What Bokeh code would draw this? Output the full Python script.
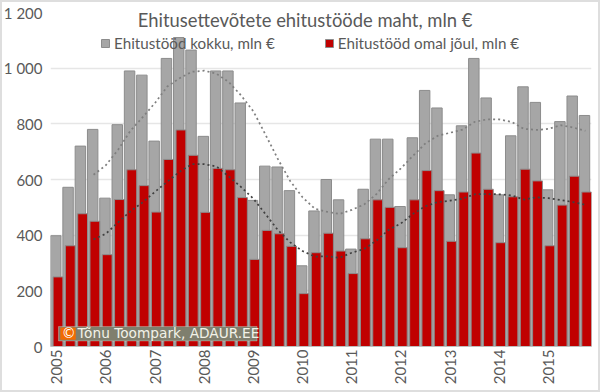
from bokeh.plotting import figure
from bokeh.models import ColumnDataSource, FixedTicker, Label, Legend, LegendItem, Range1d, BoxAnnotation
from bokeh.transform import dodge
from bokeh.embed import file_html
from bokeh.resources import INLINE

years = ["2005","2006","2007","2008","2009","2010","2011","2012","2013","2014","2015"]
quarter_idx = list(range(44))
total = [398,572,720,780,533,797,990,975,738,1035,1110,1065,755,990,990,875,525,648,645,560,290,487,600,527,350,565,745,745,503,750,920,857,545,793,1035,893,545,757,933,877,563,808,900,830]
own = [250,362,477,450,330,528,635,578,483,672,778,687,482,640,635,535,313,417,405,360,190,337,407,343,262,387,527,500,355,527,632,560,378,555,695,565,373,538,637,595,362,508,612,555]
trend_x = list(range(3,44))
trend_total = [617,651,707,775,824,875,934,964,987,991,980,950,902,845,760,673,594,536,495,484,476,491,510,547,601,640,686,730,757,768,779,807,816,816,807,782,778,782,795,787,775]
trend_own = [385,405,446,486,518,556,592,628,655,655,647,611,573,531,475,418,374,343,323,324,319,337,350,380,419,442,477,504,519,524,531,547,548,547,543,528,536,533,526,519,509]
title_text = "Ehitusettevõtete ehitustööde maht, mln €"
legend_total = "Ehitustööd kokku, mln €"
legend_own = "Ehitustööd omal jõul, mln €"
credit = "Tõnu Toompark, ADAUR.EE"

TXT = "#595959"
src = ColumnDataSource(dict(x=quarter_idx, total=total, own=own))

p = figure(width=590, height=390, output_backend="svg", toolbar_location=None,
           x_range=Range1d(-0.5, 43.5), y_range=Range1d(0, 1200),
           min_border_left=45, min_border_right=4, min_border_top=12, min_border_bottom=38)
p.frame_height = 334
p.frame_width = 541
p.stylesheets = [":host::before{content:'';position:fixed;left:0;top:0;right:0;bottom:0;border:2px solid #DEDEDE;pointer-events:none;z-index:5}"]
p.outline_line_color = None
p.border_fill_color = "white"
p.xgrid.visible = False
p.ygrid.grid_line_color = "#E6E6E6"
p.ygrid.grid_line_width = 1.5
p.yaxis.ticker = FixedTicker(ticks=[0,200,400,600,800,1000,1200])
p.yaxis.major_label_overrides = {0:"0",200:"200",400:"400",600:"600",800:"800",1000:"1 000",1200:"1 200"}
p.yaxis.axis_line_color = None
p.yaxis.major_tick_line_color = None
p.yaxis.major_tick_out = 0
p.yaxis.major_tick_in = 0
p.yaxis.minor_tick_line_color = None
p.yaxis.major_label_text_font = "Lato"
p.yaxis.major_label_text_font_size = "15px"
p.yaxis.major_label_text_color = TXT
p.yaxis.major_label_standoff = 8

p.xaxis.ticker = FixedTicker(ticks=quarter_idx[::4])
p.xaxis.major_label_overrides = {i*4: y for i, y in enumerate(years)}
p.xaxis.axis_line_color = "#BFBFBF"
p.xaxis.major_tick_line_color = None
p.xaxis.major_tick_out = 0
p.xaxis.major_tick_in = 0
p.xaxis.minor_tick_line_color = None
p.xaxis.major_label_orientation = 1.5708
p.xaxis.major_label_text_font = "Lato"
p.xaxis.major_label_text_font_size = "15px"
p.xaxis.major_label_text_color = TXT
p.xaxis.major_label_standoff = 3

r1 = p.vbar(x=dodge("x", -0.07, range=p.x_range), top="total", width=0.85, source=src,
            fill_color="#A6A6A6", line_color="#8C8C8C", line_width=1)
r2 = p.vbar(x=dodge("x", 0.11, range=p.x_range), top="own", width=0.8, source=src,
            fill_color="#C00000", line_color="#8C8C8C", line_width=1)
p.line(trend_x, trend_total, line_color="#7F7F7F", line_width=1.75, line_dash="2 3")
p.line(trend_x, trend_own, line_color="#404040", line_width=1.75, line_dash="2 3")

p.add_layout(Label(x=6.6, y=1133, text=title_text, text_font="Lato", text_font_size="18.4px",
                   text_color=TXT, background_fill_color="white"))
p.add_layout(Legend(items=[LegendItem(label=legend_total, renderers=[r1]),
                           LegendItem(label=legend_own, renderers=[r2])],
                    orientation="horizontal", location=(50, 294), background_fill_alpha=0,
                    border_line_color=None, glyph_width=10, glyph_height=10, spacing=49,
                    label_text_font="Lato", label_text_font_size="15.2px", label_text_color=TXT,
                    padding=0, margin=0, label_standoff=4))

# credit badge
p.add_layout(BoxAnnotation(left=0.15, right=16.3, bottom=20, top=72, fill_color="#7F7F6E", fill_alpha=1,
                           line_color="#F2F2E8", line_width=1))
p.add_layout(BoxAnnotation(left=0.3, right=1.55, bottom=24, top=68, fill_color="#F26A00", fill_alpha=1,
                           line_color=None))
p.add_layout(Label(x=0.42, y=21, text="©", text_font="DejaVu Sans", text_font_size="14px", text_color="white"))
p.add_layout(Label(x=1.7, y=21, text=credit, text_font="DejaVu Sans", text_font_size="13.7px", text_color="#F2F2E8"))

open("out.html", "w").write(file_html(p, INLINE))
